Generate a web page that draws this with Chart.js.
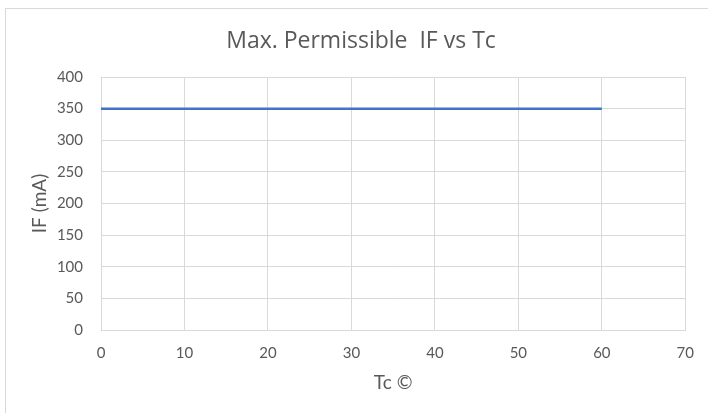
<!DOCTYPE html>
<html><head><meta charset="utf-8">
<script src="https://cdn.jsdelivr.net/npm/chart.js@4.4.0/dist/chart.umd.min.js"></script>
<style>
html,body{margin:0;padding:0;background:#fff;overflow:hidden;width:708px;height:413px;}
#frame{position:absolute;left:5px;top:8px;width:760px;height:460px;border:1px solid #d9d9d9;}
#wrap{position:absolute;left:0;top:0;width:708px;height:413px;}
</style></head>
<body>
<div id="frame"></div>
<div id="wrap"><canvas id="c" width="708" height="413"></canvas></div>
<script>
const titleText = "Max. Permissible  IF vs Tc";
const xTitle = "Tc ©";
const yTitle = "IF (mA)";
const tcValues = [0, 10, 20, 30, 40, 50, 60];
const ifValues = [350, 350, 350, 350, 350, 350, 350];
const xTicks = [0, 10, 20, 30, 40, 50, 60, 70];
const yTicks = [0, 50, 100, 150, 200, 250, 300, 350, 400];

const FONT = "Lato, 'Open Sans', sans-serif";
const TITLE_FONT = "'Open Sans', Lato, sans-serif";
const TXT = "#595959";
const GRID = "#d9d9d9";

new Chart(document.getElementById('c'), {
  type: 'scatter',
  data: {
    datasets: [{
      data: tcValues.map((x, i) => ({x: x, y: ifValues[i]})),
      showLine: true,
      borderColor: '#4472c4',
      borderWidth: 2.5,
      pointRadius: 0,
      fill: false
    }]
  },
  options: {
    responsive: false,
    animation: false,
    layout: {padding: {left: 36, right: 22, top: 0, bottom: 0}},
    plugins: {
      legend: {display: false},
      tooltip: {enabled: false},
      title: {
        display: true,
        text: titleText,
        color: TXT,
        font: {family: TITLE_FONT, size: 23, weight: 'normal'},
        padding: {top: 27.5, bottom: 21.9}
      }
    },
    scales: {
      x: {
        type: 'linear',
        min: xTicks[0],
        max: xTicks[xTicks.length - 1],
        afterBuildTicks: s => { s.ticks = xTicks.map(v => ({value: v})); },
        afterFit: s => { s.height = 83; },
        grid: {color: GRID, lineWidth: 1, drawTicks: false},
        border: {color: GRID},
        ticks: {color: TXT, font: {family: FONT, size: 15}, padding: 14, maxRotation: 0},
        title: {display: true, text: xTitle, color: TXT, font: {family: FONT, size: 19}, padding: {top: 4, bottom: 18.6}}
      },
      y: {
        type: 'linear',
        min: yTicks[0],
        max: yTicks[yTicks.length - 1],
        afterBuildTicks: s => { s.ticks = yTicks.map(v => ({value: v})); },
        afterFit: s => { s.width = 65; },
        grid: {color: GRID, lineWidth: 1, drawTicks: false},
        border: {display: false},
        ticks: {color: TXT, font: {family: FONT, size: 15}, padding: 18},
        title: {display: true, text: yTitle, color: TXT, font: {family: FONT, size: 19}, padding: {top: -7.4, bottom: 0}}
      }
    }
  }
});
</script>
</body></html>
